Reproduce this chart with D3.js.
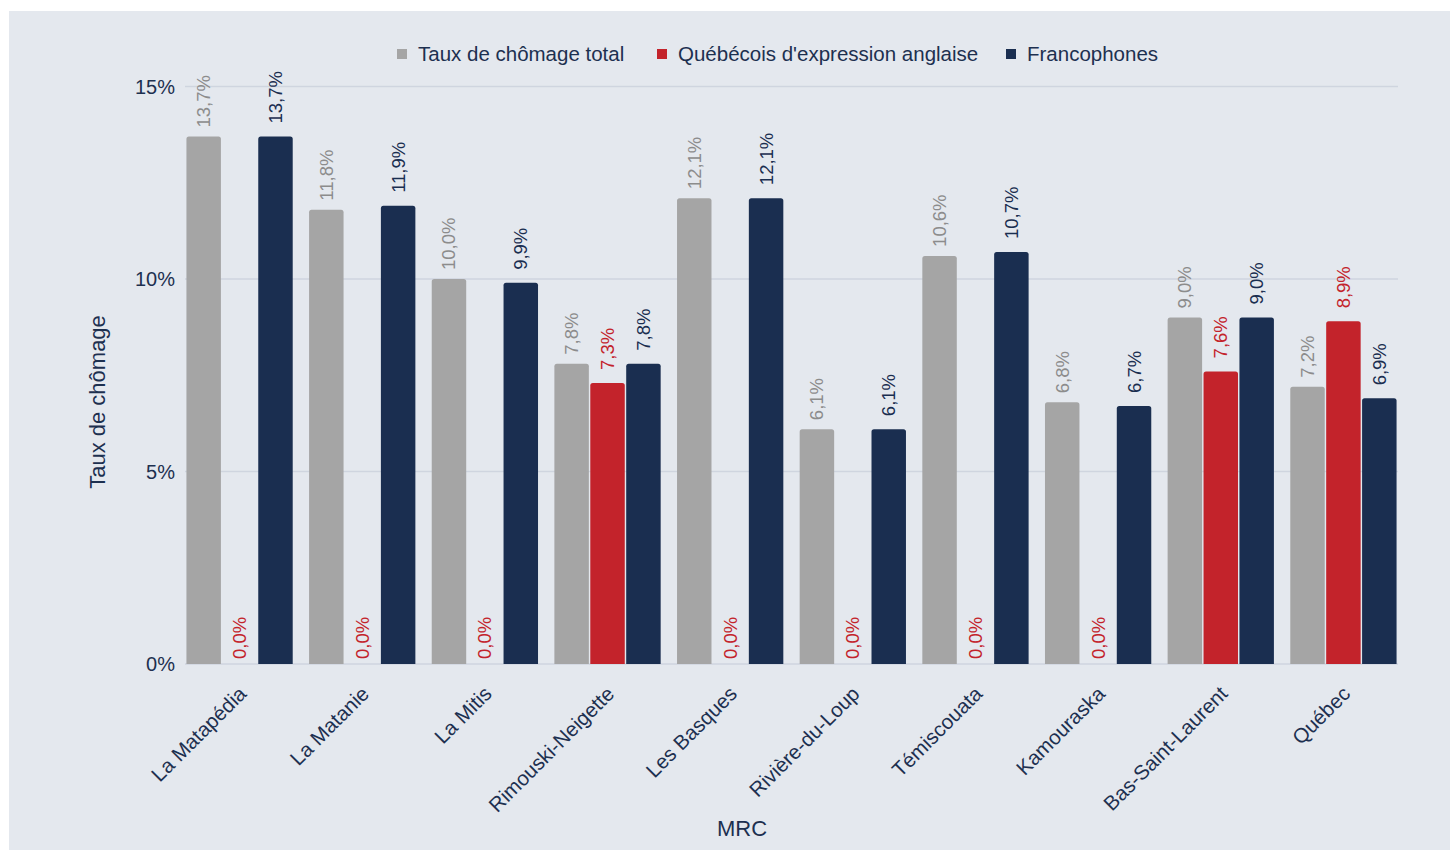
<!DOCTYPE html>
<meta charset="utf-8">
<title>Taux de chômage par MRC</title>
<style>
body {
  margin: 0;
  background: #fff;
}
text {
  font-family: "Liberation Sans", Arial, sans-serif;
}
</style>
<body>
<script src="https://cdn.jsdelivr.net/npm/d3@7/dist/d3.min.js"></script>
<script>

var categories = ["La Matapédia", "La Matanie", "La Mitis", "Rimouski-Neigette", "Les Basques",
  "Rivière-du-Loup", "Témiscouata", "Kamouraska", "Bas-Saint-Laurent", "Québec"];
var seriesNames = ["Taux de chômage total", "Québécois d'expression anglaise", "Francophones"];
var total = [13.7, 11.8, 10.0, 7.8, 12.1, 6.1, 10.6, 6.8, 9.0, 7.2];
var anglo = [0, 0, 0, 7.3, 0, 0, 0, 0, 7.6, 8.9];
var franco = [13.7, 11.9, 9.9, 7.8, 12.1, 6.1, 10.7, 6.7, 9.0, 6.9];
var yTicks = [0, 5, 10, 15];

var colors = ["#a5a5a5", "#c3232b", "#1a2e50"];
var labelColors = ["#8c8c8c", "#c3232b", "#1a2e50"];
var ink = "#1d3050";

var w = 1450, h = 850;

var svg = d3.select("body").append("svg")
    .attr("width", w)
    .attr("height", h);

svg.append("rect")
    .attr("x", 9).attr("y", 11)
    .attr("width", w - 9).attr("height", h - 11)
    .attr("fill", "#e4e8ee");

var x = d3.scaleBand().domain(categories).range([185, 1398]).paddingInner(0.11).paddingOuter(0);
var x1 = d3.scaleBand().domain([0, 1, 2]).range([0, x.bandwidth()]).padding(0.04);
var y = d3.scaleLinear().domain([0, 15]).range([664, 86.5]);

// grid
svg.append("g").selectAll("line")
    .data(yTicks)
  .enter().append("line")
    .attr("x1", 185).attr("x2", 1398)
    .attr("y1", function(d) { return y(d); })
    .attr("y2", function(d) { return y(d); })
    .attr("stroke", "#cfd5df")
    .attr("stroke-width", 1.5);

// y axis labels
svg.append("g").selectAll("text")
    .data(yTicks)
  .enter().append("text")
    .attr("x", 175)
    .attr("y", function(d) { return y(d); })
    .attr("dy", "0.35em")
    .attr("text-anchor", "end")
    .attr("fill", ink)
    .style("font-size", "20px")
    .text(function(d) { return d + "%"; });

svg.append("text")
    .attr("transform", "translate(105,402)rotate(-90)")
    .attr("text-anchor", "middle")
    .attr("fill", ink)
    .style("font-size", "22px")
    .text("Taux de chômage");

svg.append("text")
    .attr("x", 742).attr("y", 836)
    .attr("text-anchor", "middle")
    .attr("fill", ink)
    .style("font-size", "22px")
    .text("MRC");

// bars
var rows = categories.map(function(c, i) {
  return [total[i], anglo[i], franco[i]].map(function(v, s) { return {cat: c, s: s, v: v}; });
});

var groups = svg.append("g").selectAll("g")
    .data(rows)
  .enter().append("g")
    .attr("transform", function(d, i) { return "translate(" + x(categories[i]) + ",0)"; });

function barPath(d) {
  var x0 = x1(d.s), bw = x1.bandwidth(), top = y(d.v), bot = y(0), r = Math.min(2.5, bot - top);
  if (bot - top <= 0) return "";
  return "M" + x0 + "," + bot + "V" + (top + r) + "Q" + x0 + "," + top + " " + (x0 + r) + "," + top +
    "H" + (x0 + bw - r) + "Q" + (x0 + bw) + "," + top + " " + (x0 + bw) + "," + (top + r) + "V" + bot + "Z";
}

groups.selectAll("path")
    .data(function(d) { return d; })
  .enter().append("path")
    .attr("d", barPath)
    .attr("fill", function(d) { return colors[d.s]; });

groups.selectAll("text")
    .data(function(d) { return d; })
  .enter().append("text")
    .attr("transform", function(d) {
      var cx = x1(d.s) + x1.bandwidth() / 2;
      var off = d.v === 0 ? 5 : (d.s === 0 ? 9 : 13);
      return "translate(" + cx + "," + (y(d.v) - off) + ")rotate(-90)";
    })
    .attr("dy", "0.35em")
    .attr("fill", function(d) { return labelColors[d.s]; })
    .style("font-size", "18.5px")
    .text(function(d) { return d.v.toFixed(1).replace(".", ",") + "%"; });

// x labels
svg.append("g").selectAll("text")
    .data(categories)
  .enter().append("text")
    .attr("transform", function(d) {
      return "translate(" + (x(d) + x.bandwidth() / 2 + 3) + ",690)rotate(-45)";
    })
    .attr("text-anchor", "end")
    .attr("dy", "0.35em")
    .attr("fill", ink)
    .style("font-size", "20.5px")
    .text(function(d) { return d; });

// legend
var legendX = [397, 657, 1006];
var legend = svg.append("g").selectAll("g")
    .data(seriesNames)
  .enter().append("g")
    .attr("transform", function(d, i) { return "translate(" + legendX[i] + ",54)"; });

legend.append("rect")
    .attr("x", 0).attr("y", -5)
    .attr("width", 10).attr("height", 10)
    .attr("fill", function(d, i) { return colors[i]; });

legend.append("text")
    .attr("x", 21)
    .attr("dy", "0.35em")
    .attr("fill", ink)
    .style("font-size", "20.5px")
    .text(function(d) { return d; });

</script>
